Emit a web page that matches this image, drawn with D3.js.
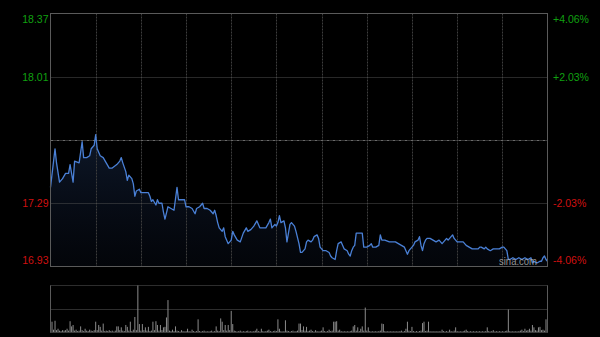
<!DOCTYPE html>
<html>
<head>
<meta charset="utf-8">
<script src="https://cdn.jsdelivr.net/npm/d3@7/dist/d3.min.js"></script>
<style>
html,body{margin:0;padding:0;background:#000;}
svg{display:block;}
</style>
</head>
<body>
<div id="chart"></div>
<script>
// ---- data ----
const prevClose = 17.65;
const priceTicks = [18.37, 18.01, 17.29, 16.93];
const pctTicks = ["+4.06%", "+2.03%", "-2.03%", "-4.06%"];
const totalMinutes = 330;
const gridMinutes = [30, 60, 90, 120, 150, 180, 210, 240, 270, 300];

const minutes = [0,3,4,6,8,10,12,13,15,16,19,21,22,24,26,27,29,30,31,33,35,37,39,41,44,45,46,47,48,50,51,52,54,55,56,57,59,60,62,
64,65,66,67,68,70,71,72,74,75,76,78,80,82,84,85,87,89,90,92,94,96,97,99,101,102,104,106,108,109,110,111,112,114,115,116,117,118,120,121,122,124,126,
128,130,131,133,135,137,139,141,143,145,146,147,149,150,151,152,153,155,156,157,159,160,162,163,165,166,167,169,170,171,173,174,175,177,178,179,181,183,185,186,187,189,190,191,
193,194,195,197,198,199,200,201,202,203,205,207,208,210,212,213,214,216,218,219,220,222,225,227,229,231,233,235,236,237,238,240,241,242,244,245,246,247,248,249,250,252,254,256,
258,260,262,263,264,266,267,268,270,272,274,275,276,278,280,282,284,285,286,288,289,290,292,294,296,298,300,301,303,304,305,307,309,311,313,315,317,319,320,321,323,325,326,327,328,329,330];

const prices = [17.38,17.60,17.52,17.41,17.43,17.46,17.46,17.51,17.41,17.53,17.52,17.64,17.55,17.55,17.56,17.60,17.62,17.68,17.60,17.56,17.55,17.52,17.49,17.49,17.51,17.52,17.53,17.55,17.52,17.47,17.42,17.45,17.43,17.40,17.33,17.36,17.37,17.35,17.35,
17.35,17.35,17.33,17.30,17.31,17.28,17.31,17.29,17.29,17.24,17.20,17.27,17.26,17.25,17.38,17.31,17.31,17.31,17.27,17.27,17.26,17.23,17.26,17.27,17.29,17.26,17.26,17.25,17.23,17.25,17.22,17.18,17.15,17.13,17.15,17.10,17.08,17.06,17.08,17.13,17.11,17.08,17.07,
17.12,17.15,17.13,17.14,17.16,17.19,17.15,17.15,17.15,17.18,17.20,17.15,17.17,17.16,17.18,17.22,17.18,17.19,17.15,17.07,17.17,17.18,17.16,17.13,17.06,17.01,17.01,17.03,17.07,17.08,17.07,17.08,17.10,17.11,17.09,17.04,17.02,17.02,17.01,16.99,16.98,16.97,17.02,17.06,
17.07,17.05,17.03,17.02,17.00,16.99,17.02,17.04,17.05,17.12,17.12,17.12,17.04,17.04,17.05,17.06,17.04,17.04,17.05,17.11,17.08,17.08,17.07,17.07,17.07,17.06,17.05,17.04,17.02,17.00,17.02,17.04,17.05,17.07,17.08,17.10,17.05,17.02,17.06,17.08,17.09,17.09,17.08,17.07,
17.08,17.06,17.08,17.09,17.08,17.10,17.11,17.09,17.07,17.07,17.07,17.06,17.05,17.04,17.03,17.03,17.03,17.04,17.04,17.03,17.04,17.03,17.02,17.03,17.03,17.03,17.04,17.04,17.02,16.97,16.97,16.98,16.97,16.98,16.97,16.98,16.97,16.98,16.95,16.96,16.95,16.96,16.96,16.98,16.99,16.97,16.96];

// volume per minute (relative units)
const volumes = [
23,23,6,25,5,8,4,3,5,4,5,8,4,24,13,16,4,6,3,4,13,5,3,8,4,3,6,4,3,5,
23,5,16,12,4,19,3,4,3,5,3,4,2,4,13,13,5,11,4,3,16,12,4,23,3,6,33,5,100,18,
4,18,5,11,4,12,3,4,23,5,24,16,4,16,5,11,12,32,69,4,3,6,3,13,4,3,2,5,3,2,
3,8,3,2,6,3,2,3,28,3,2,3,4,2,3,2,3,4,2,3,13,4,3,30,23,5,16,4,16,5,
46,18,4,3,2,3,4,2,3,2,3,4,2,3,2,3,4,8,3,2,8,3,2,3,4,6,3,2,3,4,
3,28,8,3,2,3,26,4,3,2,3,4,2,3,4,19,19,5,13,4,12,3,4,6,3,2,5,3,2,3,
4,11,3,2,3,6,3,4,23,23,24,4,6,3,2,3,2,3,2,3,4,13,16,4,11,3,8,13,4,53,
4,11,3,2,3,2,3,2,3,4,19,18,3,2,3,2,3,2,3,2,3,2,3,4,2,3,8,23,4,3,
12,3,2,3,2,3,4,20,23,3,4,23,3,2,3,2,3,2,3,2,6,3,2,3,2,6,3,2,4,11,
3,2,3,2,3,4,6,3,2,3,2,3,2,3,2,3,2,3,2,3,11,3,2,3,5,2,3,2,3,2,
3,2,3,4,49,3,2,3,2,3,2,3,4,6,3,8,4,5,8,4,16,11,5,4,11,12,5,6,4,28,28];

// ---- layout ----
const W = 600, H = 337;
const L = 50.5, R = 547.5, T = 13.5, B = 266.5;
const VT = 285.5, VB = 332.5;

const svg = d3.select("#chart").append("svg").attr("width", W).attr("height", H)
  .style("background", "#000");

const x = d3.scaleLinear().domain([0, totalMinutes]).range([L, R]);
const y = d3.scaleLinear().domain([priceTicks[3], priceTicks[0]]).range([B, T]);
const yv = d3.scaleLinear().domain([0, d3.max(volumes)]).range([VB, VT]);

const font = "'Liberation Sans', Arial, Helvetica, sans-serif";

// gradient for area
const defs = svg.append("defs");
const grad = defs.append("linearGradient").attr("id", "ag").attr("x1", 0).attr("y1", 0).attr("x2", 0).attr("y2", 1);
grad.append("stop").attr("offset", "0%").attr("stop-color", "#2a4a80").attr("stop-opacity", 0.32);
grad.append("stop").attr("offset", "100%").attr("stop-color", "#1a2a50").attr("stop-opacity", 0.12);

const pts = minutes.map((m, i) => [m, prices[i]]);

// area
svg.append("path").datum(pts)
  .attr("d", d3.area().x(d => x(d[0])).y0(B).y1(d => y(d[1])))
  .attr("fill", "url(#ag)");

// vertical grid
svg.append("g").selectAll("line").data(gridMinutes).join("line")
  .attr("x1", d => Math.round(x(d)) + 0.5).attr("x2", d => Math.round(x(d)) + 0.5)
  .attr("y1", T).attr("y2", B)
  .attr("stroke", "#3d3d3d").attr("stroke-width", 1).attr("stroke-dasharray", "2,1");

// horizontal grid
const hGrid = [priceTicks[1], priceTicks[2]];
svg.append("g").selectAll("line").data(hGrid).join("line")
  .attr("x1", L).attr("x2", R)
  .attr("y1", d => Math.round(y(d)) + 0.5).attr("y2", d => Math.round(y(d)) + 0.5)
  .attr("stroke", "#505050").attr("stroke-width", 1).attr("stroke-dasharray", "1,1");

// previous close line
svg.append("line")
  .attr("x1", L).attr("x2", R)
  .attr("y1", Math.round(y(prevClose)) + 0.5).attr("y2", Math.round(y(prevClose)) + 0.5)
  .attr("stroke", "#6a6a6a").attr("stroke-width", 1).attr("stroke-dasharray", "3,1,1,1");

// price line
svg.append("path").datum(pts)
  .attr("d", d3.line().x(d => x(d[0])).y(d => y(d[1])))
  .attr("fill", "none").attr("stroke", "#4a80d6").attr("stroke-width", 1.3)
  .attr("stroke-linejoin", "round");

// frame
svg.append("rect").attr("x", L).attr("y", T).attr("width", R - L).attr("height", B - T)
  .attr("fill", "none").attr("stroke", "#5a5a5a").attr("stroke-width", 1);

// watermark
svg.append("text").attr("x", 499).attr("y", 265).text("sina.com")
  .attr("font-family", font).attr("font-size", 11.5)
  .attr("textLength", 38).attr("lengthAdjust", "spacingAndGlyphs")
  .attr("fill", "#b0b0b0").attr("fill-opacity", 0.85);

// left labels
function labelY(v) {
  const c = y(v);
  return Math.max(T + 9.5, Math.min(B - 2.5, c + 4));
}
svg.append("g").selectAll("text").data(priceTicks).join("text")
  .attr("x", 48.5).attr("y", d => labelY(d))
  .attr("text-anchor", "end")
  .attr("font-family", font).attr("font-size", 10.5)
  .attr("fill", d => d > prevClose ? "#10a010" : "#d01010")
  .text(d => d.toFixed(2));

// right labels
svg.append("g").selectAll("text").data(pctTicks).join("text")
  .attr("x", 553).attr("y", (d, i) => labelY(priceTicks[i]))
  .attr("text-anchor", "start")
  .attr("font-family", font).attr("font-size", 10.5)
  .attr("fill", d => d.startsWith("+") ? "#10a010" : "#d01010")
  .text(d => d);

// volume pane grid
const vMid = (VT + VB) / 2;
svg.append("g").selectAll("line").data([VT, Math.round(vMid) + 0.5]).join("line")
  .attr("x1", L).attr("x2", R).attr("y1", d => d).attr("y2", d => d)
  .attr("stroke", "#5a5a5a").attr("stroke-width", 1).attr("stroke-dasharray", "1,1");

// volume bars
svg.append("g").selectAll("rect").data(volumes).join("rect")
  .attr("x", (d, i) => x(i) - 0.5)
  .attr("width", 1)
  .attr("y", d => yv(d))
  .attr("height", d => VB - yv(d))
  .attr("fill", "#8a8a8a");

// volume frame sides and bottom
svg.append("line").attr("x1", L).attr("x2", L).attr("y1", VT).attr("y2", VB).attr("stroke", "#5a5a5a");
svg.append("line").attr("x1", R).attr("x2", R).attr("y1", VT).attr("y2", VB).attr("stroke", "#5a5a5a");
svg.append("line").attr("x1", L).attr("x2", R).attr("y1", VB).attr("y2", VB).attr("stroke", "#3a3a3a");
</script>
</body>
</html>
